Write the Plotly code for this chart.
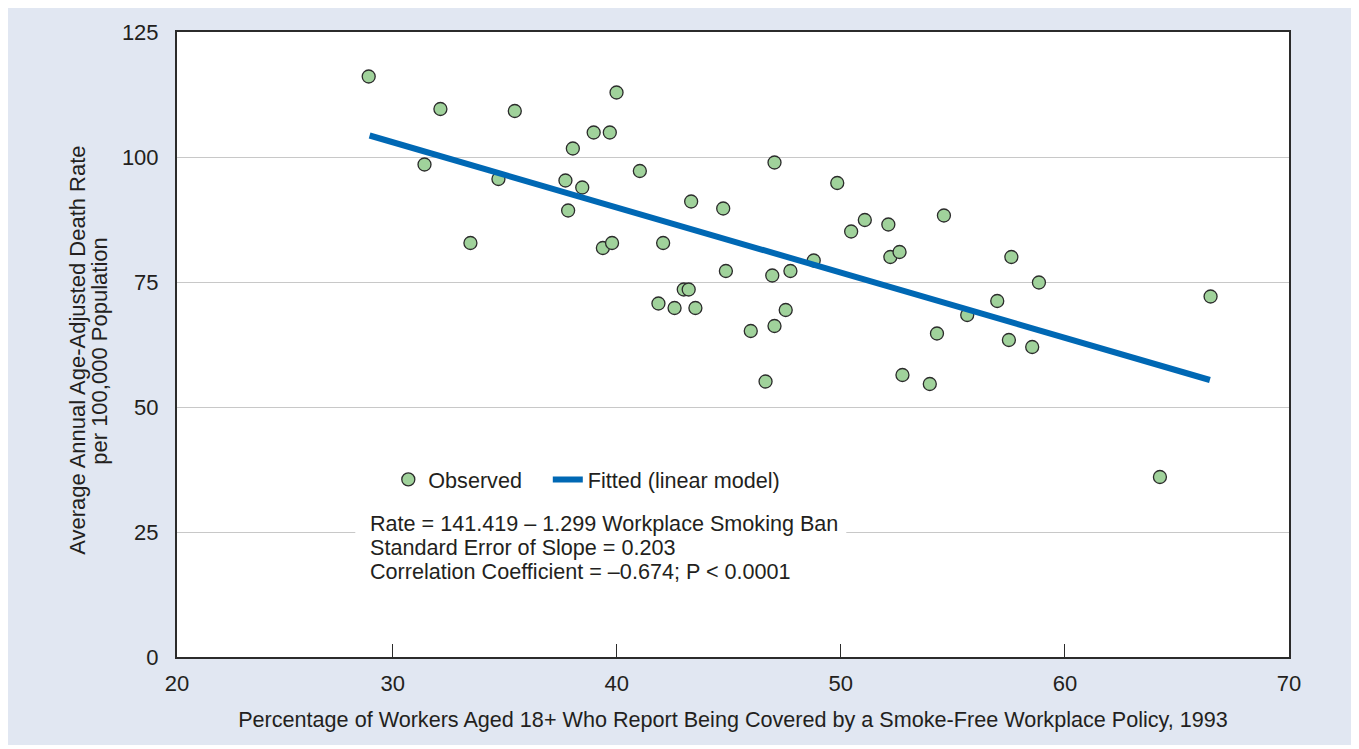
import plotly.graph_objects as go

ban_pct = [28.93, 31.42, 32.13, 33.47, 34.72, 35.45, 37.71, 37.83, 38.04, 38.46,
           38.97, 39.38, 39.69, 39.79, 39.99, 41.03, 41.86, 42.07, 42.58, 42.99,
           43.21, 43.32, 43.51, 44.75, 44.87, 45.98, 46.64, 46.94, 47.04, 47.04,
           47.54, 47.75, 48.79, 49.84, 50.46, 51.07, 52.12, 52.21, 52.62, 52.75,
           53.97, 54.29, 54.60, 55.64, 56.98, 57.50, 57.61, 58.54, 58.84, 64.24,
           66.50]
death_rate = [116.1, 98.5, 109.6, 82.8, 95.6, 109.2, 95.3, 89.3, 101.7, 93.9,
              104.9, 81.8, 104.9, 82.8, 112.9, 97.2, 70.7, 82.8, 69.8, 73.5,
              73.5, 91.1, 69.8, 89.7, 77.2, 65.2, 55.1, 76.3, 66.2, 98.9,
              69.4, 77.2, 79.3, 94.8, 85.1, 87.4, 86.5, 80.0, 81.0, 56.4,
              54.6, 64.7, 88.3, 68.4, 71.2, 63.4, 80.0, 62.0, 74.9, 36.0,
              72.1]

# Fitted line endpoints
fit_x = [28.97, 66.47]
fit_y = [104.3, 55.4]

x_tickvals = [20.375, 30, 40, 50, 60, 70]
x_ticktext = ["20", "30", "40", "50", "60", "70"]
y_tickvals = [0, 25, 50, 75, 100, 125]

y_title_lines = ["Average Annual Age-Adjusted Death Rate", "per 100,000 Population"]
x_title = "Percentage of Workers Aged 18+ Who Report Being Covered by a Smoke-Free Workplace Policy, 1993"
stats_lines = [
    "Rate = 141.419 \u2013 1.299 Workplace Smoking Ban",
    "Standard Error of Slope = 0.203",
    "Correlation Coefficient = \u20130.674; P < 0.0001",
]

FONT = "Liberation Sans, Arial, sans-serif"
FS = 21.6
TXT = "#231f20"
PW, PH = 1112, 628   # plot area size in px

fig = go.Figure()
fig.add_trace(go.Scatter(
    x=ban_pct, y=death_rate, mode="markers", name="Observed", legend="legend",
    marker=dict(size=13, color="#a0d29b", line=dict(color="#2b2b2b", width=1.3)),
))
fig.add_trace(go.Scatter(
    x=fit_x, y=fit_y, mode="lines", name="Fitted (linear model)", legend="legend2",
    line=dict(color="#0068b4", width=6),
))

# white box behind the statistics text (hides gridline)
fig.add_shape(type="rect", xref="paper", yref="paper",
              x0=(355 - 176.7) / PW, x1=(846 - 176.7) / PW,
              y0=(657 - 586) / PH, y1=(657 - 509) / PH,
              fillcolor="white", line=dict(width=0), layer="above")

for i, t in enumerate(stats_lines):
    fig.add_annotation(
        xref="paper", yref="paper",
        x=(368 - 176.7) / PW, y=(657 - (523 + 24 * i)) / PH,
        xanchor="left", yanchor="middle", text=t, showarrow=False,
        font=dict(family=FONT, size=FS, color=TXT),
    )

# y-axis title as two rotated lines
for i, t in enumerate(y_title_lines):
    fig.add_annotation(
        xref="paper", yref="paper",
        x=((77 + 22 * i) - 176.7) / PW, y=(657 - 349) / PH,
        xanchor="center", yanchor="middle", textangle=-90,
        text=t, showarrow=False,
        font=dict(family=FONT, size=22, color=TXT),
    )

leg_common = dict(orientation="h", xanchor="left", yanchor="middle",
                  y=(657 - 479) / PH, bgcolor="rgba(0,0,0,0)",
                  font=dict(family=FONT, size=FS, color=TXT), itemwidth=30)

fig.update_layout(
    width=1359, height=737,
    margin=dict(l=169, r=78, t=21, b=88),
    paper_bgcolor="#e1e7f2", plot_bgcolor="white",
    font=dict(family=FONT, size=FS, color=TXT),
    showlegend=True,
    legend=dict(x=(388 - 176.7) / PW, **leg_common),
    legend2=dict(x=(547.5 - 176.7) / PW, **leg_common),
)
fig.update_xaxes(
    range=[20.375, 70], tickvals=x_tickvals, ticktext=x_ticktext,
    showgrid=False, zeroline=False,
    showline=True, linecolor="#2b2b2b", linewidth=2, mirror=True,
    ticks="inside", ticklen=13, tickcolor="#2b2b2b", tickwidth=1,
    ticklabelstandoff=6, tickfont=dict(size=22),
    title=dict(text=x_title, standoff=16, font=dict(family=FONT, size=FS, color=TXT)),
)
fig.update_yaxes(
    range=[0, 125], tickvals=y_tickvals,
    showgrid=True, gridcolor="#c8c8c8", gridwidth=1.3, zeroline=False,
    showline=True, linecolor="#2b2b2b", linewidth=2, mirror=True,
    ticks="", ticklabelstandoff=12, tickfont=dict(size=22),
)

fig.write_html("out.html")
